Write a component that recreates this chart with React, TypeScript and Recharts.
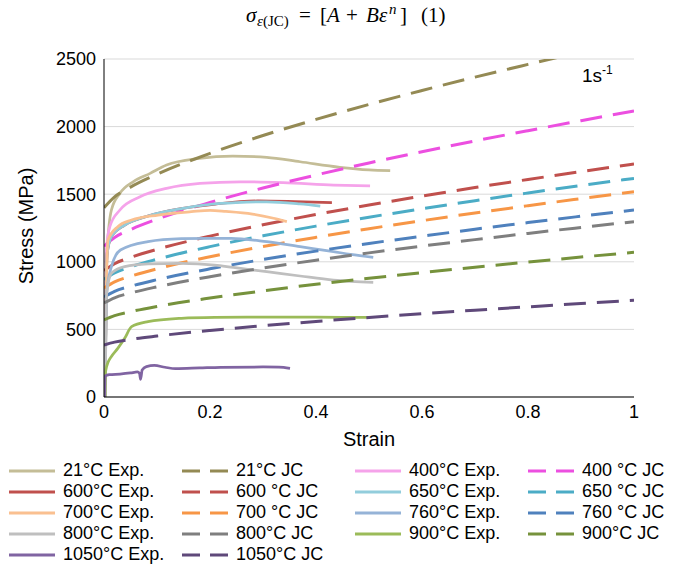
import React from 'react';
import { LineChart, Line, XAxis, YAxis, CartesianGrid, Legend } from 'recharts';

const strainTicks = [0, 0.2, 0.4, 0.6, 0.8, 1];
const stressTicks = [0, 500, 1000, 1500, 2000, 2500];

// Experimental curves: [strain, stress MPa]
const exp21 = [[0.002, 0], [0.004, 700], [0.006, 1087], [0.014, 1383], [0.03, 1506], [0.055, 1592], [0.087, 1654], [0.118, 1716], [0.18, 1765], [0.243, 1782], [0.307, 1773], [0.37, 1740], [0.445, 1699], [0.5, 1680], [0.54, 1674]];
const exp400 = [[0.002, 0], [0.0035, 1000], [0.005, 1112], [0.011, 1260], [0.03, 1383], [0.068, 1481], [0.118, 1543], [0.181, 1580], [0.257, 1592], [0.338, 1585], [0.433, 1568], [0.502, 1561]];
const exp600 = [[0.002, 0], [0.004, 800], [0.006, 1063], [0.014, 1186], [0.039, 1272], [0.083, 1339], [0.146, 1394], [0.21, 1427], [0.29, 1450], [0.36, 1445], [0.43, 1437]];
const exp650 = [[0.002, 0], [0.004, 800], [0.006, 1063], [0.014, 1186], [0.039, 1272], [0.083, 1339], [0.146, 1394], [0.2, 1425], [0.25, 1438], [0.307, 1444], [0.37, 1428], [0.408, 1412]];
const exp700 = [[0.002, 0], [0.004, 700], [0.0075, 1161], [0.026, 1260], [0.052, 1309], [0.102, 1346], [0.165, 1371], [0.2, 1381], [0.23, 1373], [0.28, 1353], [0.32, 1322], [0.345, 1297]];
const exp760 = [[0.002, 0], [0.004, 600], [0.005, 767], [0.014, 964], [0.031, 1087], [0.083, 1149], [0.146, 1171], [0.2, 1174], [0.24, 1174], [0.307, 1149], [0.37, 1112], [0.433, 1075], [0.465, 1055], [0.508, 1033]];
const exp800 = [[0.002, 0], [0.004, 650], [0.005, 767], [0.014, 915], [0.039, 964], [0.083, 984], [0.146, 989], [0.209, 976], [0.244, 958], [0.307, 927], [0.37, 895], [0.433, 865], [0.508, 848]];
const exp900 = [[0.002, 0], [0.003, 190], [0.008, 260], [0.014, 300], [0.026, 360], [0.039, 434], [0.052, 520], [0.083, 557], [0.146, 582], [0.209, 589], [0.3, 591], [0.4, 590], [0.5, 589]];
const exp1050 = [[0.001, 0], [0.002, 155], [0.01, 165], [0.03, 170], [0.05, 178], [0.063, 185], [0.067, 175], [0.069, 130], [0.072, 200], [0.08, 225], [0.095, 233], [0.115, 220], [0.135, 210], [0.18, 215], [0.22, 220], [0.3, 222], [0.33, 221], [0.351, 212]];

// Johnson-Cook curves read at common strains
const jcStrain = [0, 0.02, 0.05, 0.1, 0.2, 0.3, 0.4, 0.5, 0.6, 0.7, 0.8, 0.9, 1.0];
const jc21 = [1400, 1480, 1552, 1647, 1802, 1934, 2053, 2164, 2267, 2366, 2460, 2552, 2640];
const jc400 = [1115, 1180, 1238, 1315, 1439, 1546, 1642, 1731, 1814, 1894, 1970, 2044, 2115];
const jc600 = [935, 986, 1032, 1092, 1190, 1274, 1350, 1420, 1486, 1549, 1609, 1667, 1723];
const jc650 = [870, 918, 962, 1019, 1112, 1192, 1264, 1330, 1392, 1452, 1509, 1564, 1617];
const jc700 = [806, 852, 893, 948, 1037, 1113, 1181, 1245, 1304, 1361, 1415, 1467, 1518];
const jc760 = [740, 782, 819, 868, 948, 1017, 1079, 1136, 1189, 1241, 1290, 1337, 1383];
const jc800 = [695, 734, 769, 815, 890, 954, 1012, 1066, 1116, 1164, 1210, 1254, 1297];
const jc900 = [570, 602, 631, 670, 732, 785, 834, 878, 920, 960, 998, 1035, 1070];
const jc1050 = [385, 406, 426, 451, 492, 527, 559, 588, 616, 642, 667, 692, 715];

const toPts = (pairs: number[][]) => pairs.map(([x, y]) => ({ x, y }));
const jcPts = (vals: number[]) => jcStrain.map((x, i) => ({ x, y: vals[i] }));

const series = [
  { name: '21°C Exp.', data: toPts(exp21), color: '#C4BD97', dashed: false },
  { name: '21°C JC', data: jcPts(jc21), color: '#948A54', dashed: true },
  { name: '400°C Exp.', data: toPts(exp400), color: '#F5A3EA', dashed: false },
  { name: '400 °C JC', data: jcPts(jc400), color: '#EC4FE0', dashed: true },
  { name: '600°C Exp.', data: toPts(exp600), color: '#C0504D', dashed: false },
  { name: '600 °C JC', data: jcPts(jc600), color: '#C0504D', dashed: true },
  { name: '650°C Exp.', data: toPts(exp650), color: '#92CDDC', dashed: false },
  { name: '650 °C JC', data: jcPts(jc650), color: '#4BACC6', dashed: true },
  { name: '700°C Exp.', data: toPts(exp700), color: '#FAC090', dashed: false },
  { name: '700 °C JC', data: jcPts(jc700), color: '#F79646', dashed: true },
  { name: '760°C Exp.', data: toPts(exp760), color: '#95B3D7', dashed: false },
  { name: '760 °C JC', data: jcPts(jc760), color: '#4F81BD', dashed: true },
  { name: '800°C Exp.', data: toPts(exp800), color: '#BFBFBF', dashed: false },
  { name: '800°C JC', data: jcPts(jc800), color: '#7F7F7F', dashed: true },
  { name: '900°C Exp.', data: toPts(exp900), color: '#9BBB59', dashed: false },
  { name: '900°C JC', data: jcPts(jc900), color: '#76923C', dashed: true },
  { name: '1050°C Exp.', data: toPts(exp1050), color: '#8064A2', dashed: false },
  { name: '1050°C JC', data: jcPts(jc1050), color: '#5F497A', dashed: true },
];

const FONT = '"Liberation Sans", Arial, sans-serif';
const SERIF = '"Liberation Serif", "DejaVu Serif", serif';

const renderLegend = () => (
  <div
    style={{
      display: 'grid',
      gridTemplateColumns: '173px 173px 173px 173px',
      fontFamily: FONT,
      fontSize: 18,
      color: '#000',
    }}
  >
    {series.map((s) => (
      <div key={s.name} style={{ display: 'flex', alignItems: 'center', height: 21, whiteSpace: 'nowrap' }}>
        <svg width={48} height={10} style={{ flex: 'none' }}>
          <line x1={1} y1={5} x2={47} y2={5} stroke={s.color} strokeWidth={3}
            strokeDasharray={s.dashed ? '18 10' : undefined} />
        </svg>
        <span style={{ marginLeft: 7 }}>{s.name}</span>
      </div>
    ))}
  </div>
);

const YTitle = (props: any) => {
  const vb = props.viewBox || { x: 0, y: 59, width: 104, height: 338 };
  const cy = vb.y + vb.height / 2 - 2;
  return (
    <text x={33} y={cy} transform={`rotate(-90 33 ${cy})`} textAnchor="middle"
      fontFamily={FONT} fontSize={20} fill="#000">Stress (MPa)</text>
  );
};

const XTitle = (props: any) => {
  const vb = props.viewBox || { x: 104, y: 397, width: 530, height: 49 };
  return (
    <text x={vb.x + vb.width / 2} y={446} textAnchor="middle"
      fontFamily={FONT} fontSize={20} fill="#000">Strain</text>
  );
};

const fmtX = (v: number) => (v === 0 ? '0' : v === 1 ? '1' : String(v));

export default function App() {
  return (
    <div style={{ position: 'absolute', left: 0, top: 0, width: 677, height: 566, background: '#fff' }}>
      <LineChart width={677} height={566} margin={{ top: 59, right: 43, bottom: 120, left: 0 }}>
        <CartesianGrid horizontal={true} vertical={false} stroke="#D9D9D9" strokeWidth={1} />
        <XAxis dataKey="x" type="number" domain={[0, 1]} ticks={strainTicks} tickFormatter={fmtX}
          height={49} tickLine={false} axisLine={{ stroke: '#000', strokeWidth: 1 }}
          tick={{ fill: '#000', fontSize: 18, fontFamily: FONT }} label={<XTitle />} allowDataOverflow />
        <YAxis type="number" domain={[0, 2500]} ticks={stressTicks} width={104}
          tickLine={false} axisLine={{ stroke: '#000', strokeWidth: 1 }}
          tick={{ fill: '#000', fontSize: 18, fontFamily: FONT }} label={<YTitle />} allowDataOverflow />
        {series.map((s) => (
          <Line key={s.name} data={s.data} dataKey="y" name={s.name} type="monotone"
            stroke={s.color} strokeWidth={s.dashed ? 3 : 2.75}
            strokeDasharray={s.dashed ? '22 11' : undefined}
            dot={false} activeDot={false} isAnimationActive={false} />
        ))}
        <Legend layout="vertical" align="center" verticalAlign="middle" content={renderLegend}
          wrapperStyle={{ left: 8, top: 460, width: 669, height: 106 }} />
      </LineChart>
      <svg width={677} height={566} style={{ position: 'absolute', left: 0, top: 0, pointerEvents: 'none' }}>
        <text y={22} fontFamily={SERIF} fontSize={21} fill="#000" style={{ whiteSpace: 'pre' }}>
          <tspan x={246} fontStyle="italic">σ</tspan>
          <tspan x={257} dy={4} fontSize={15} fontStyle="italic">ε</tspan>
          <tspan fontSize={15}>(JC)</tspan>
          <tspan x={299} dy={-4}>=</tspan>
          <tspan x={320}>[</tspan>
          <tspan x={327} fontStyle="italic">A</tspan>
          <tspan x={346}>+</tspan>
          <tspan x={366} fontStyle="italic">B</tspan>
          <tspan x={379} fontStyle="italic">ε</tspan>
          <tspan x={389} dy={-8} fontSize={15} fontStyle="italic">n</tspan>
          <tspan x={400} dy={8}>]</tspan>
          <tspan x={421}>(1)</tspan>
        </text>
        <text x={582} y={82} fontFamily={FONT} fontSize={19} fill="#000">
          1s<tspan dy={-8} fontSize={12}>-1</tspan>
        </text>
      </svg>
    </div>
  );
}
